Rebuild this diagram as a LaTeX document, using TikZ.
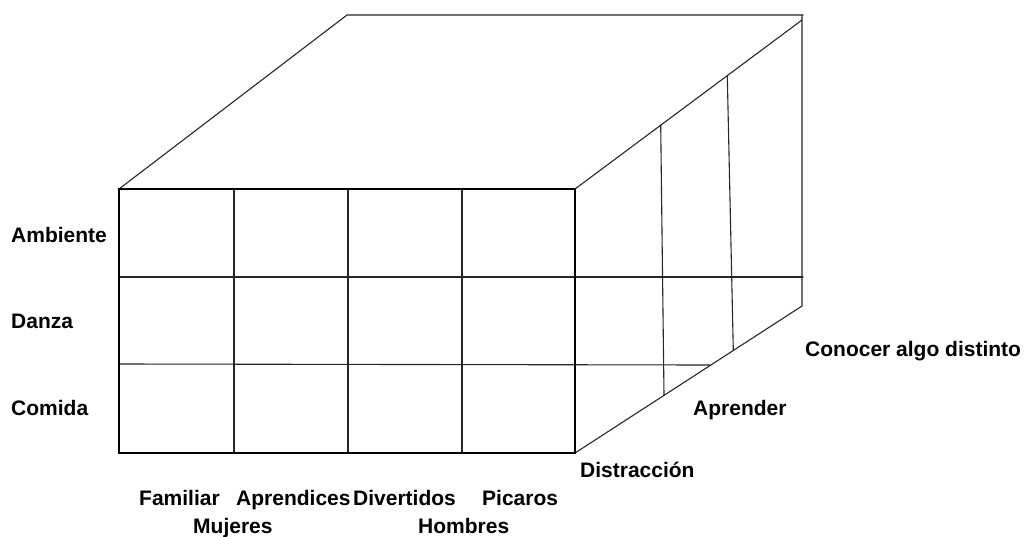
\documentclass[tikz,border=0pt]{standalone}
\usepackage{fontspec}
\setmainfont{Liberation Sans}
\begin{document}
\begin{tikzpicture}[x=1pt,y=-1pt,
  thinline/.style={line width=1.1pt, black!85, line cap=round},
  frame/.style={line width=2.4pt, black},
  lbl/.style={font=\fontsize{21}{25}\selectfont\bfseries, inner sep=0, anchor=base west}]
\useasboundingbox (0,0) rectangle (1025,536);
% corners
\coordinate (FTL) at (119,189);
\coordinate (FTR) at (575,189);
\coordinate (FBR) at (575,453);
\coordinate (FBL) at (119,453);
\coordinate (BTL) at (347,15);
\coordinate (BTR) at (803,15);
\coordinate (BRT) at (802,15);
\coordinate (BRD) at (802,20);
\coordinate (BBR) at (802,306);
% top and right faces
\draw[thinline] (FTL) -- (BTL) -- (BTR);
\draw[thinline] (FTR) -- (BRD);
\draw[thinline] (BRT) -- (BBR) -- (FBR);
% front grid
\foreach \x in {234,348,462} \draw[thinline] (\x,189) -- (\x,453);
\coordinate (H1L) at (119,277); \coordinate (H1R) at (803,277);
\coordinate (H2L) at (119,364); \coordinate (H2R) at (710,365);
\draw[thinline] (H1L) -- (H1R);
\draw[thinline] (H2L) -- (H2R);
% right face verticals
\coordinate (V1T) at (660.7,125); \coordinate (V1B) at (664,395);
\coordinate (V2T) at (727.3,76); \coordinate (V2B) at (733.3,350.5);
\draw[thinline] (V1T) -- (V1B);
\draw[thinline] (V2T) -- (V2B);
% front frame
\draw[frame] (FTL) rectangle (FBR);
% labels
\node[lbl] (amb) at (11,242) {Ambiente};
\node[lbl] (dan) at (11,328) {Danza};
\node[lbl] (com) at (11,415) {Comida};
\node[lbl] (fam) at (139,505) {Familiar};
\node[lbl] (apr) at (236,505) {Aprendices};
\node[lbl] (div) at (353,505) {Divertidos};
\node[lbl] (pic) at (482,505) {Picaros};
\node[lbl] (muj) at (193,533) {Mujeres};
\node[lbl] (hom) at (418,533) {Hombres};
\node[lbl] (dis) at (580,477) {Distracción};
\node[lbl] (apd) at (693,415) {Aprender};
\node[lbl] (con) at (805,356) {Conocer algo distinto};
\end{tikzpicture}
\end{document}
